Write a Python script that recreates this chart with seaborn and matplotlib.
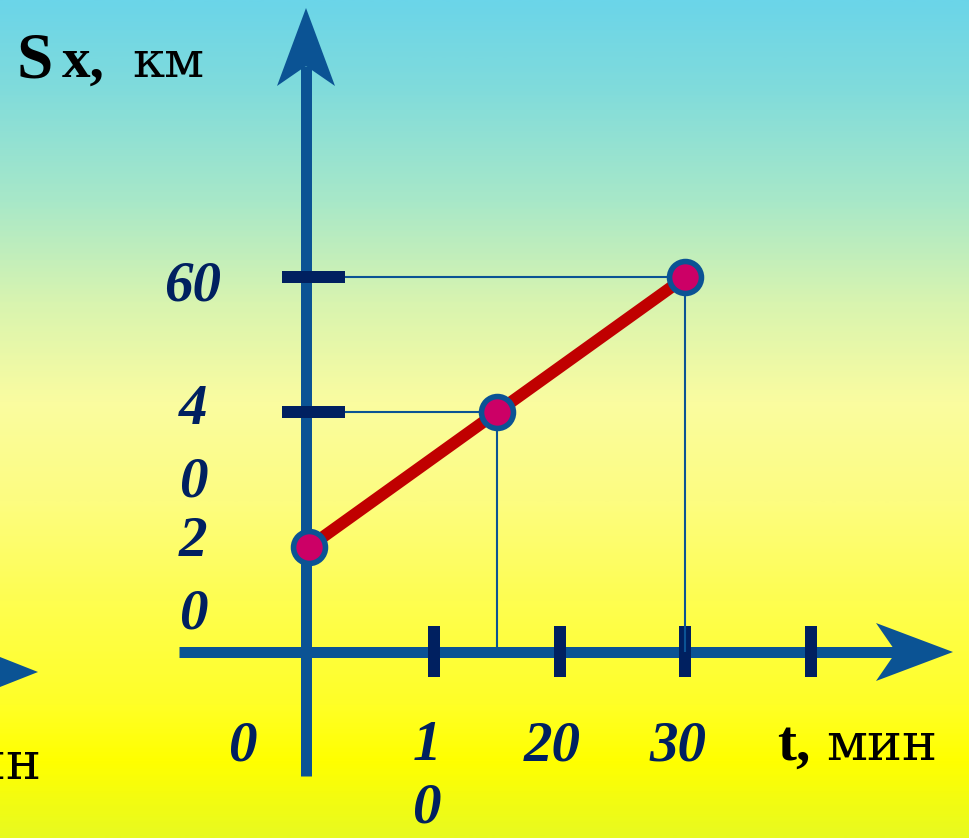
import numpy as np
import matplotlib
matplotlib.use('Agg')
import matplotlib.pyplot as plt
import matplotlib.transforms as mtransforms
from matplotlib.colors import LinearSegmentedColormap
from matplotlib.patches import Polygon
import seaborn as sns

# Data
time_min = [0, 15, 30]
dist_km = [20, 40, 60]

x_ticks = [10, 20, 30, 40]
x_tick_labels = ['1\n0', '20', '30', '']
y_ticks = [40, 60]
y_tick_labels = ['4\n0', '60']
y_point_labels = ['2\n0']  # label beside the first point
y_point_values = [20]

AXIS = '#0b5394'
TICK = '#002060'
LABEL = '#002060'

sns.set_style('white')
plt.rcParams['font.family'] = ['Liberation Serif', 'DejaVu Serif']

W, H = 969, 838
fig = plt.figure(figsize=(W / 100, H / 100), dpi=100)

# decoration layer in pixel coordinates (background, axes arrows, titles)
deco = fig.add_axes([0, 0, 1, 1])
deco.set_xlim(0, W)
deco.set_ylim(H, 0)
deco.axis('off')

grad = LinearSegmentedColormap.from_list('bg', [
    (0.0, '#6bd5e9'), (0.1, '#7fdbdc'), (0.24, '#a8e8c8'), (0.36, '#d8f4b0'),
    (0.48, '#fafca0'), (0.6, '#fdfd80'), (0.72, '#fefe50'), (0.84, '#ffff28'),
    (0.91, '#ffff00'), (1.0, '#e8fa20')])
deco.imshow(np.linspace(0, 1, 400).reshape(-1, 1), cmap=grad, aspect='auto',
            extent=[0, W, H, 0], zorder=0)

# data layer
ax = fig.add_axes([0, 0, 1, 1])
ax.patch.set_alpha(0)
ax.axis('off')
ax.set_xlim(-309 / 12.55, (W - 309) / 12.55)
ax.set_ylim((682 - H) / 6.75, 682 / 6.75)

def px_to_data(px, py):
    disp = deco.transData.transform((px, py))
    return ax.transData.inverted().transform(disp)

axis_t0, axis_s0 = px_to_data(306, 652)
tick_end_t, _ = px_to_data(345, 0)

# axes arrows
lw_axis = 11 * 72 / 100
deco.plot([306, 306], [776, 66], color=AXIS, lw=lw_axis, solid_capstyle='butt', zorder=2)
deco.add_patch(Polygon([(306, 8), (335, 86), (306, 66), (277, 86)], closed=True,
                       color=AXIS, lw=0, zorder=2))
deco.plot([179, 896], [652, 652], color=AXIS, lw=lw_axis, solid_capstyle='butt', zorder=2)
deco.add_patch(Polygon([(953, 652), (876, 623), (896, 652), (876, 681)], closed=True,
                       color=AXIS, lw=0, zorder=2))
# remnant of the previous slide at the left edge
deco.add_patch(Polygon([(38, 672), (0, 657), (0, 687)], closed=True, color=AXIS, lw=0, zorder=2))
deco.text(41, 779, 'мин', ha='right', va='baseline', fontsize=38, family='DejaVu Serif',
          color='black', zorder=3)

# tick bars
blend_x = mtransforms.blended_transform_factory(ax.transData, deco.transData)
blend_y = mtransforms.blended_transform_factory(deco.transData, ax.transData)
ax.vlines(x_ticks, 626, 677, colors=TICK, lw=12 * 72 / 100, transform=blend_x, zorder=3)
ax.hlines(y_ticks, 282, 345, colors=TICK, lw=12 * 72 / 100, transform=blend_y, zorder=3)

# thin guide lines from the axes to the points
ax.hlines(dist_km[1:], tick_end_t, time_min[1:], colors=AXIS, lw=1.5, zorder=3)
ax.vlines(time_min[1:], axis_s0, dist_km[1:], colors=AXIS, lw=1.5, zorder=3)

# motion graph
sns.lineplot(x=time_min, y=dist_km, ax=ax, color='#c00000', linewidth=8.6,
             marker='o', markersize=23, markerfacecolor='#cc0066',
             markeredgecolor=AXIS, markeredgewidth=4, zorder=5)

# tick labels
lab_kw = dict(fontsize=41, fontweight='bold', fontstyle='italic', color=LABEL, zorder=4)
for t, lab in zip(x_ticks, x_tick_labels):
    if lab:
        ax.text(t, 720, lab, ha='center', va='top', linespacing=1.25,
                transform=mtransforms.offset_copy(blend_x, fig=fig, x=-8, y=0, units='dots'),
                **lab_kw)
deco.text(242, 720, '0', ha='center', va='top', **lab_kw)
y_nudge = [-34, -9, -31]  # label offsets below their values, in pixels
for s, lab, dy in zip(y_ticks + y_point_values, y_tick_labels + y_point_labels, y_nudge):
    ax.text(193, s, lab, ha='center', va='center', linespacing=1.5,
            transform=mtransforms.offset_copy(blend_y, fig=fig, x=0, y=dy, units='dots'),
            **lab_kw)

# axis titles
deco.text(16, 77, 'S', ha='left', va='baseline', fontsize=47, fontweight='bold', color='black', zorder=4)
deco.text(62, 77, 'x,', ha='left', va='baseline', fontsize=41, fontweight='bold', color='black', zorder=4)
deco.text(132, 77, 'км', ha='left', va='baseline', fontsize=37, family='DejaVu Serif',
          color='black', zorder=4)
deco.text(777, 760, 't,', ha='left', va='baseline', fontsize=41, fontweight='bold', color='black', zorder=4)
deco.text(826, 760, 'мин', ha='left', va='baseline', fontsize=38, family='DejaVu Serif',
          color='black', zorder=4)

fig.savefig('out.png', dpi=100)
